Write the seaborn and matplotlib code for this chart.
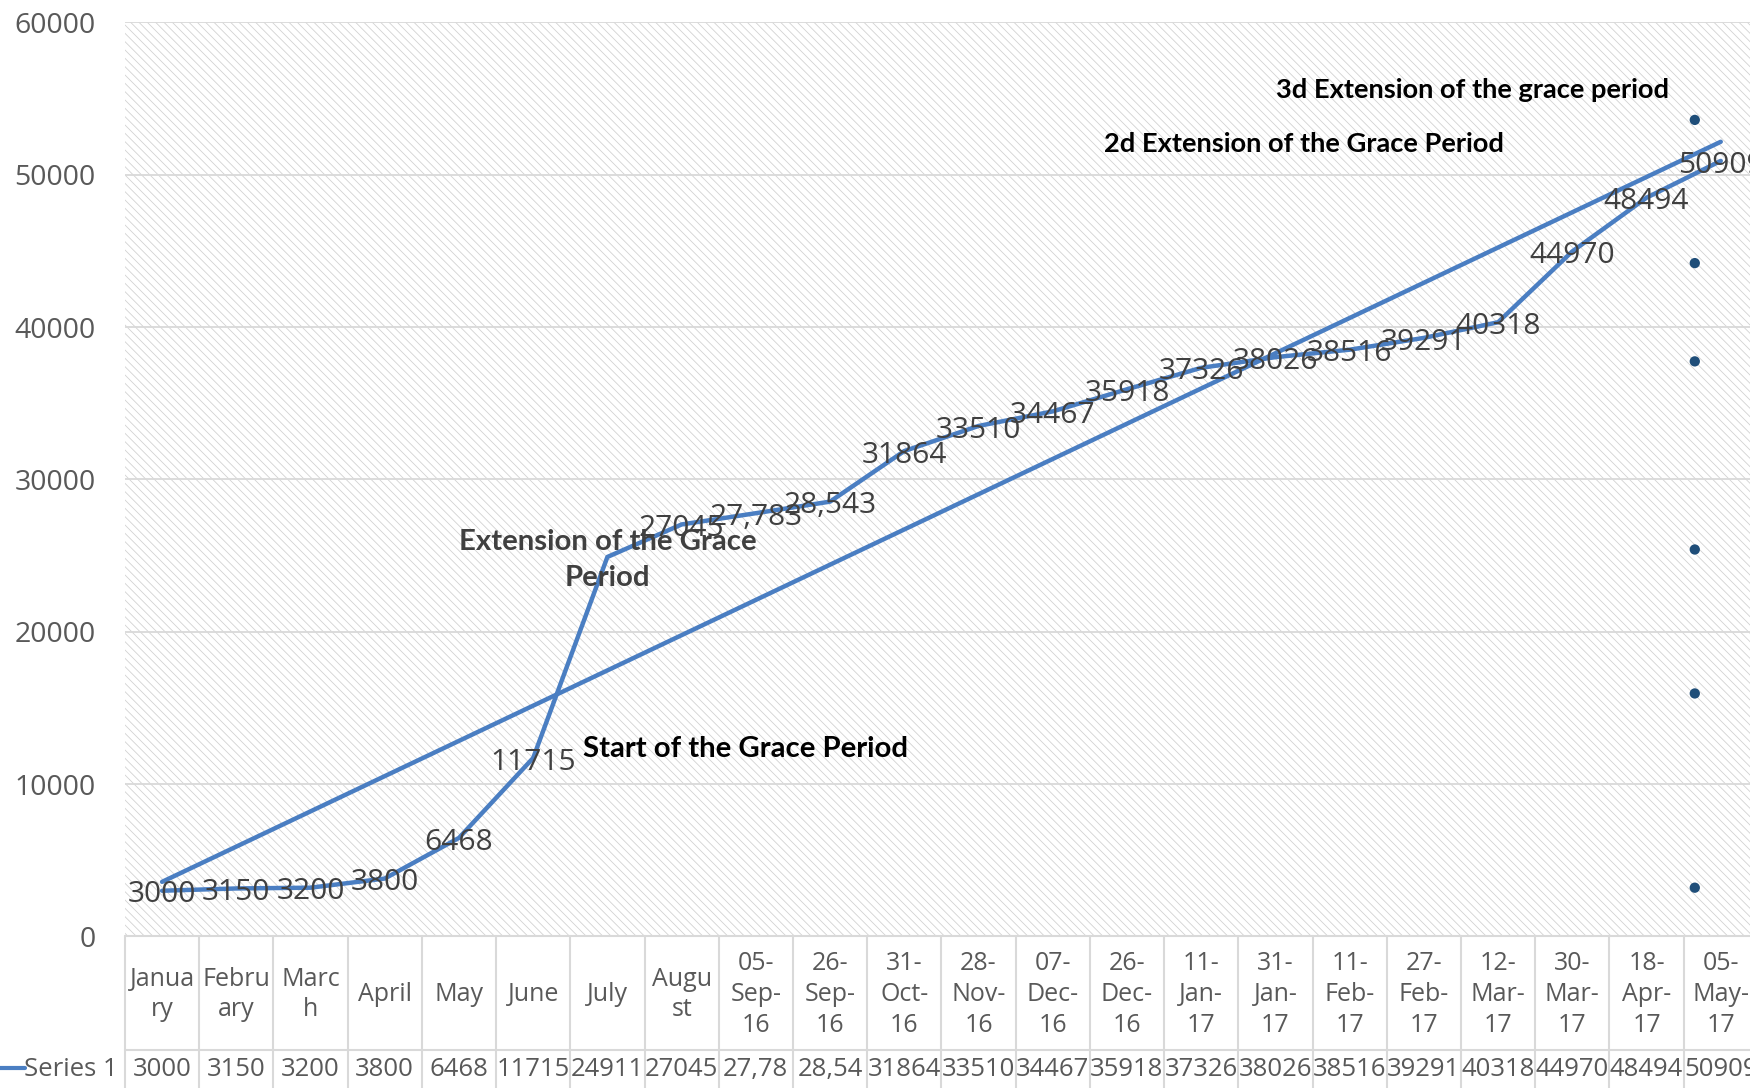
import numpy as np
import matplotlib.pyplot as plt
import seaborn as sns
from matplotlib.patches import Rectangle
from matplotlib.lines import Line2D

# categories as they appear in the data table (Excel wraps them inside the cells)
categories = ["Janua\nry", "Febru\nary", "Marc\nh", "April", "May", "June", "July", "Augu\nst",
              "05-\nSep-\n16", "26-\nSep-\n16", "31-\nOct-\n16", "28-\nNov-\n16", "07-\nDec-\n16",
              "26-\nDec-\n16", "11-\nJan-\n17", "31-\nJan-\n17", "11-\nFeb-\n17", "27-\nFeb-\n17",
              "12-\nMar-\n17", "30-\nMar-\n17", "18-\nApr-\n17", "05-\nMay-\n17"]
values = [3000, 3150, 3200, 3800, 6468, 11715, 24911, 27045, 27783, 28543, 31864, 33510,
          34467, 35918, 37326, 38026, 38516, 39291, 40318, 44970, 48494, 50909]
# July has no value label on the chart: the annotation sits there instead
point_labels = ["3000", "3150", "3200", "3800", "6468", "11715", "", "27045", "27,783",
                "28,543", "31864", "33510", "34467", "35918", "37326", "38026", "38516",
                "39291", "40318", "44970", "48494", "50909"]
# the table cells are too narrow for the comma values, Excel cuts them
table_labels = ["3000", "3150", "3200", "3800", "6468", "11715", "24911", "27045", "27,78",
                "28,54", "31864", "33510", "34467", "35918", "37326", "38026", "38516",
                "39291", "40318", "44970", "48494", "50909"]
# loose points of a second series near the right edge
dot_x = 20.65
dot_values = [53600, 44200, 37750, 25400, 15950, 3200]
yticks = [0, 10000, 20000, 30000, 40000, 50000, 60000]

blue = "#4A7EC2"
dark_blue = "#1F4E79"
grid_col = "#D9D9D9"
txt_col = "#595959"

sns.set_style("white")
plt.rcParams["font.family"] = ["Open Sans", "DejaVu Sans"]
plt.rcParams["hatch.linewidth"] = 0.6

xs = np.arange(len(values))

fig = plt.figure(figsize=(17.5, 10.88), dpi=100)
ax = fig.add_axes([0.0714, 0.1393, 0.9331, 0.8401])

# hatched plot area
ax.add_patch(Rectangle((0, 0), 1, 1, transform=ax.transAxes, facecolor="white",
                       edgecolor="#D2D2D2", linewidth=0, hatch="\\\\\\\\", zorder=0))

sns.lineplot(x=xs, y=values, ax=ax, color=blue, linewidth=3.2, zorder=3)
sns.regplot(x=xs, y=values, ax=ax, scatter=False, ci=None, truncate=True,
            line_kws=dict(color=blue, linewidth=3.2, zorder=3))
sns.scatterplot(x=[dot_x] * len(dot_values), y=dot_values, ax=ax, color=dark_blue,
                s=55, edgecolor="none", zorder=4)

for x, v, lab in zip(xs, values, point_labels):
    ax.annotate(lab, (x, v), xytext=(0, -3), textcoords="offset points", ha="center",
                va="center", fontsize=21.5, color="#404040", zorder=5)

# annotations
bold = dict(fontweight="bold", family=["Lato", "DejaVu Sans"], va="baseline")
ax.text(17.65, 55030, "3d Extension of the grace period", ha="center", fontsize=19.6,
        color="black", **bold)
ax.text(15.38, 51506, "2d Extension of the Grace Period", ha="center", fontsize=19.6,
        color="black", **bold)
ax.text(5.67, 11775, "Start of the Grace Period", ha="left", fontsize=21.2,
        color="black", **bold)
ax.text(6.0, 23000, "Extension of the Grace\nPeriod", ha="center", multialignment="center",
        linespacing=1.5, fontsize=21.2, color="#404040", **bold)

ax.set_xlim(-0.5, len(values) - 0.5)
ax.set_ylim(0, 60000)
ax.set_yticks(yticks)
ax.set_yticklabels([str(t) for t in yticks])
ax.set_xticks([])
ax.set_xlabel("")
ax.set_ylabel("")
ax.tick_params(axis="y", length=0, pad=21, labelsize=20.5, labelcolor=txt_col)
ax.grid(axis="y", color=grid_col, linewidth=1.3)
ax.set_axisbelow(True)
for s in ax.spines.values():
    s.set_visible(False)

# data table under the plot
xt = ax.get_xaxis_transform()
row_div = -0.1243
for k in range(len(values) + 1):
    ax.plot([k - 0.5, k - 0.5], [0, -0.2], transform=xt, clip_on=False,
            color=grid_col, linewidth=1.5)
ax.plot([-0.5, len(values) - 0.5], [0, 0], transform=xt, clip_on=False,
        color=grid_col, linewidth=1.5)
ax.plot([-0.5, len(values) - 0.5], [row_div, row_div], transform=xt, clip_on=False,
        color=grid_col, linewidth=1.5)
for x, cat, lab in zip(xs, categories, table_labels):
    ax.text(x, -0.0635, cat, transform=xt, ha="center", va="center", fontsize=18,
            color=txt_col, linespacing=1.3, multialignment="center")
    ax.text(x, -0.1455, lab, transform=xt, ha="center", va="center", fontsize=18.5,
            color=txt_col)

fig.text(118 / 1750, (1088 - 1069) / 1088, "Series 1", ha="right", va="center",
         fontsize=18.5, color=txt_col)
fig.add_artist(Line2D([0, 25 / 1750], [(1088 - 1068) / 1088] * 2, color=blue, linewidth=3))

fig.savefig("out.png", dpi=100)
